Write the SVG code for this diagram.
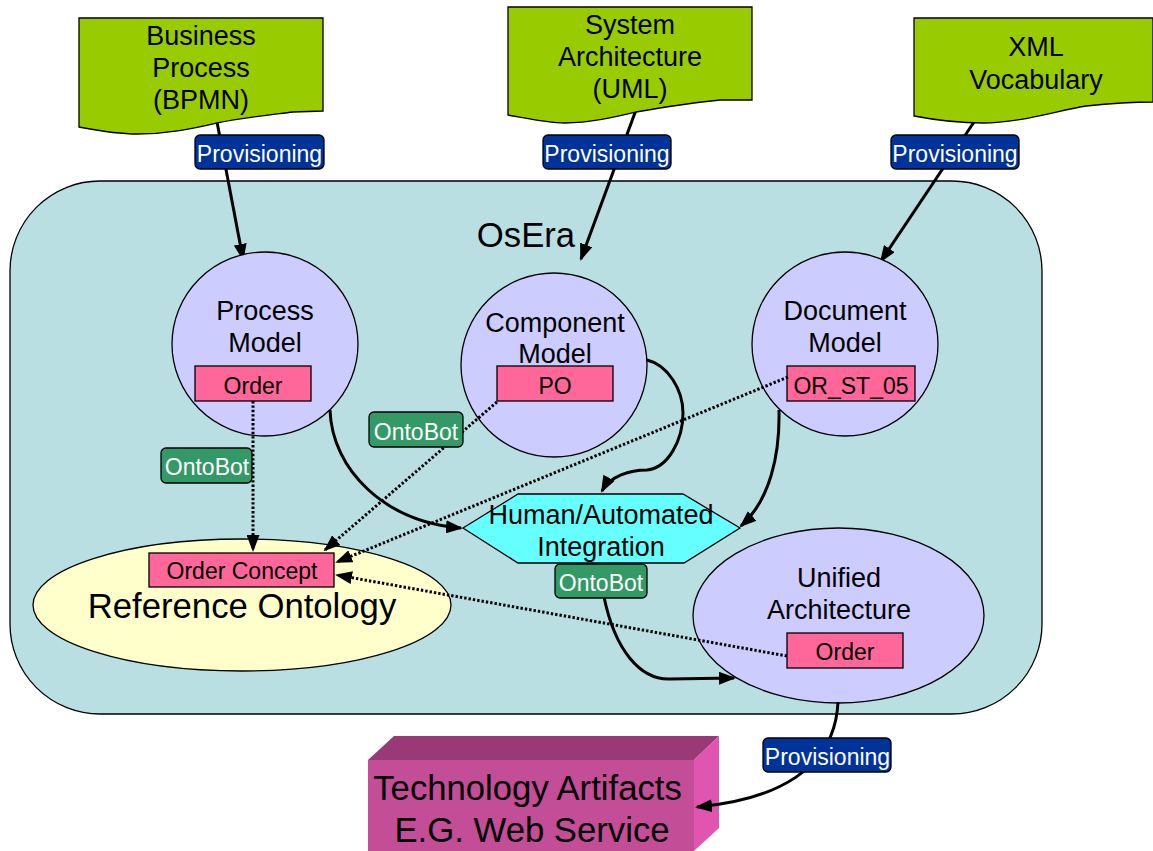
<svg xmlns="http://www.w3.org/2000/svg" width="1153" height="851" viewBox="0 0 1153 851">
<defs>
<marker id="arr" viewBox="0 0 17 13" refX="15" refY="6.5" markerWidth="17" markerHeight="13" markerUnits="userSpaceOnUse" orient="auto"><path d="M0 0L17 6.5L0 13Z" fill="#000"/></marker>
</defs>
<style>
text{font-family:"Liberation Sans",Arial,sans-serif;fill:#000;text-anchor:middle}
.o{stroke:#000;stroke-width:1.3}
.t25{font-size:27px}
.t33{font-size:34.7px}
.t22{font-size:23px}
.w{fill:#fff;font-size:23px}
.c{fill:none;stroke:#000;stroke-width:3}
.d{fill:none;stroke:#000;stroke-width:3;stroke-dasharray:2.4 2}
.doc{fill:#99cc00}
.ell{fill:#ccccff}
.pk{fill:#ff6699}
.pv{fill:#003399}
.ob{fill:#339966}
</style>
<g id="osera"><rect class="o" x="10" y="181" width="1032" height="533" rx="90" ry="90" fill="#b9dfe2"/><text class="t33" x="526" y="247">OsEra</text></g>
<g id="connectors-under">
<path class="c" d="M217 122L243 259" marker-end="url(#arr)"/>
<path class="c" d="M636 110L581 259" marker-end="url(#arr)"/>
<path class="c" d="M974 122L881 261" marker-end="url(#arr)"/>
</g>
<g id="business-process"><path class="o doc" d="M79 18H323V111L293 112C260 116 240 118 217 123C195 128 170 134 137 134C115 134 95 130 79 127Z"/><text class="t25" x="201" y="44.5">Business</text><text class="t25" x="201" y="76.5">Process</text><text class="t25" x="201" y="109">(BPMN)</text></g>
<g id="system-architecture"><path class="o doc" d="M508 7H752V100H720C690 103 665 107 636 112C615 117 590 123 565 123C545 123 525 118 508 115Z"/><text class="t25" x="630" y="33.5">System</text><text class="t25" x="630" y="65.5">Architecture</text><text class="t25" x="630" y="98">(UML)</text></g>
<g id="xml-vocabulary"><path class="o doc" d="M914 18H1153V102C1125 102 1105 104 1086 106C1055 111 1020 123 983 123C960 123 935 120 914 116Z"/><text class="t25" x="1036" y="55.5">XML</text><text class="t25" x="1036" y="88.5">Vocabulary</text></g>
<g id="process-model"><ellipse class="o ell" cx="265" cy="344" rx="93" ry="92"/><text class="t25" x="265" y="319.5">Process</text><text class="t25" x="265" y="351.5">Model</text><rect class="o pk" x="195" y="366" width="116" height="35"/><text class="t22" x="253" y="393.5">Order</text></g>
<g id="component-model"><ellipse class="o ell" cx="554" cy="365" rx="93" ry="92"/><text class="t25" x="555" y="331.5">Component</text><text class="t25" x="555" y="362.5">Model</text><rect class="o pk" x="497" y="366" width="116" height="35"/><text class="t22" x="555" y="393.5">PO</text></g>
<g id="document-model"><ellipse class="o ell" cx="845" cy="344" rx="93" ry="92"/><text class="t25" x="845" y="319.5">Document</text><text class="t25" x="845" y="351.5">Model</text><rect class="o pk" x="787" y="366" width="128" height="35"/><text class="t22" x="851" y="393.5">OR_ST_05</text></g>
<g id="reference-ontology"><ellipse class="o" cx="242" cy="605" rx="209" ry="66" fill="#ffffcc"/><text class="t33" x="242" y="617.5">Reference Ontology</text><rect class="o pk" x="149" y="553" width="185" height="34"/><text class="t22" x="242" y="578.5">Order Concept</text></g>
<g id="integration"><path class="o" d="M463 528L518 494H683L740 528L684 563H518Z" fill="#66ffff"/><text class="t25" x="601" y="523.5">Human/Automated</text><text class="t25" x="601" y="555.5">Integration</text></g>
<g id="unified-architecture"><ellipse class="o ell" cx="838.5" cy="615.5" rx="145.5" ry="87.5"/><text class="t25" x="839" y="586.5">Unified</text><text class="t25" x="839" y="618.5">Architecture</text><rect class="o pk" x="787" y="633" width="116" height="35"/><text class="t22" x="845" y="659.5">Order</text></g>
<g id="technology-artifacts"><path d="M368 760L394 736H719L694 760Z" fill="#993a77"/><path d="M694 760L719 736V828L694 851Z" fill="#e055b0"/><path d="M368 760H694V851H368Z" fill="#c44d97"/><text class="t33" x="527.5" y="799.5">Technology Artifacts</text><text class="t33" x="532" y="841.5">E.G. Web Service</text></g>
<g id="connectors">
<path class="c" d="M330 410C332 470 385 522 461 528" marker-end="url(#arr)"/>
<path class="c" d="M647 360C668 365 683 390 683 413C683 440 668 468 647 470C630 470 610 476 602 491" marker-end="url(#arr)"/>
<path class="c" d="M779 410C780 455 770 500 741 526" marker-end="url(#arr)"/>
<path class="c" d="M604 597C615 650 640 680 670 679L734 678" marker-end="url(#arr)"/>
<path class="c" d="M838 702C835 770 775 800 697 807" marker-end="url(#arr)"/>
<path class="d" d="M253 401V550" marker-end="url(#arr)"/>
<path class="d" d="M497 402L325 550" marker-end="url(#arr)"/>
<path class="d" d="M788 377L337 562" marker-end="url(#arr)"/>
<path class="d" d="M787 656L337 575" marker-end="url(#arr)"/>
</g>
<g id="label-provisioning-1"><rect class="o pv" x="195" y="135" width="129" height="34" rx="5"/><text class="w" x="259.5" y="161.5">Provisioning</text></g>
<g id="label-provisioning-2"><rect class="o pv" x="543" y="135" width="128" height="34" rx="5"/><text class="w" x="607" y="161.5">Provisioning</text></g>
<g id="label-provisioning-3"><rect class="o pv" x="891" y="135" width="128" height="34" rx="5"/><text class="w" x="955" y="161.5">Provisioning</text></g>
<g id="label-provisioning-4"><rect class="o pv" x="763" y="738" width="128" height="34" rx="5"/><text class="w" x="827.5" y="764.5">Provisioning</text></g>
<g id="label-ontobot-1"><rect class="o ob" x="161" y="448" width="91" height="35" rx="5"/><text class="w" x="207" y="474.5">OntoBot</text></g>
<g id="label-ontobot-2"><rect class="o ob" x="369" y="412" width="94" height="35" rx="5"/><text class="w" x="416" y="439.5">OntoBot</text></g>
<g id="label-ontobot-3"><rect class="o ob" x="555" y="564" width="92" height="34" rx="5"/><text class="w" x="601" y="590.5">OntoBot</text></g>
</svg>
